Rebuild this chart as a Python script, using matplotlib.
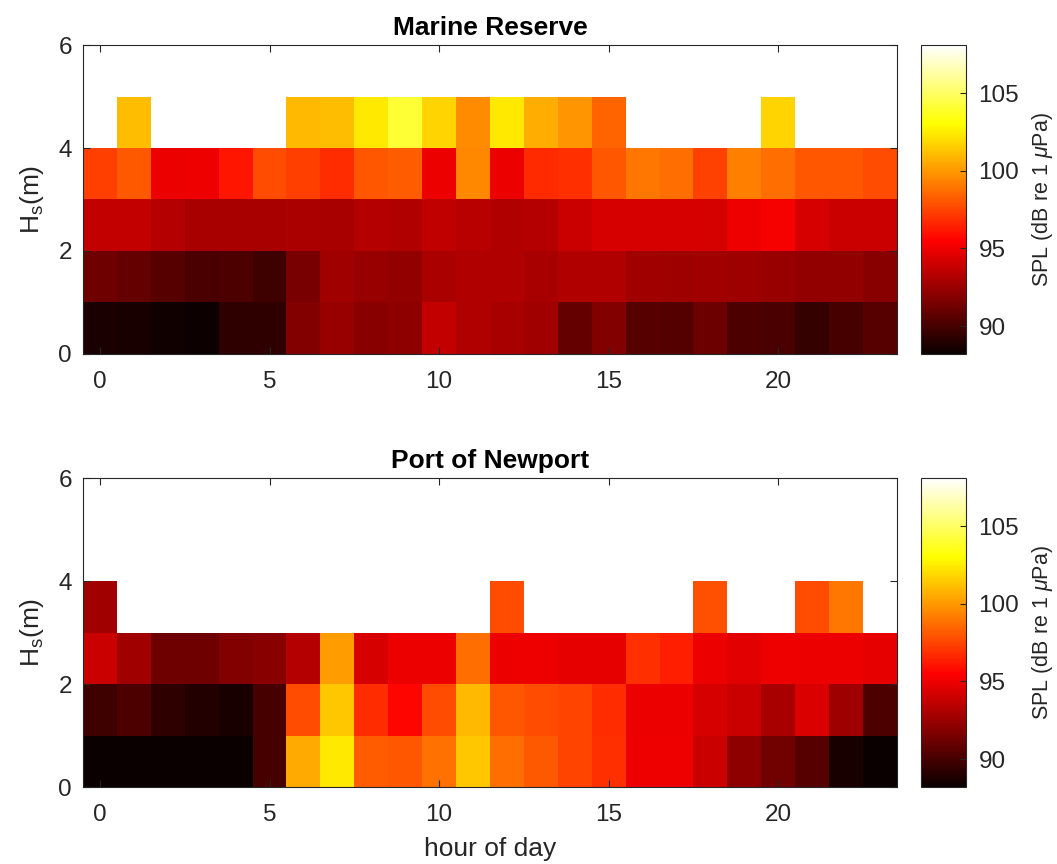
import numpy as np
import matplotlib
matplotlib.use("Agg")
import matplotlib.pyplot as plt

plt.rcParams['font.family'] = ['Liberation Sans', 'DejaVu Sans']
plt.rcParams['mathtext.fontset'] = 'custom'
plt.rcParams['mathtext.rm'] = 'Liberation Sans'
plt.rcParams['mathtext.it'] = 'Liberation Sans:italic'

nan = np.nan

# hour of day (bin centres) and significant wave height bin edges
hours = list(range(24))
hs_edges = [0, 1, 2, 3, 4, 5, 6]

# SPL (dB re 1 uPa) per Hs bin, Marine Reserve
mr_hs0 = [88.7, 88.6, 88.4, 88.3, 89.3, 89.3, 91.8, 92.4, 92.0, 92.1, 93.7, 93.1,
          92.9, 92.7, 90.9, 91.8, 90.5, 90.4, 91.1, 90.2, 90.1, 89.5, 90.0, 90.5]
mr_hs1 = [91.2, 90.9, 90.5, 90.1, 90.2, 89.8, 91.5, 92.7, 92.4, 92.3, 93.0, 93.1,
          93.1, 92.9, 93.1, 93.1, 92.7, 92.6, 92.7, 92.6, 92.4, 92.3, 92.3, 92.0]
mr_hs2 = [93.7, 93.7, 93.3, 92.9, 92.9, 92.9, 93.0, 92.9, 93.3, 93.1, 93.6, 93.4,
          93.1, 93.3, 93.9, 94.3, 94.3, 94.3, 94.2, 95.0, 95.2, 94.3, 93.9, 93.9]
mr_hs3 = [97.3, 98.1, 94.9, 95.0, 96.1, 97.7, 97.3, 96.8, 98.0, 98.2, 94.9, 99.5,
          94.9, 96.7, 96.9, 98.0, 99.0, 98.7, 97.4, 99.3, 98.7, 98.0, 98.0, 97.7]
mr_hs4 = [nan, 101.1, nan, nan, nan, nan, 101.0, 101.1, 102.4, 104.1, 101.8, 99.6,
          102.4, 100.6, 99.9, 98.4, nan, nan, nan, nan, 101.8, nan, nan, nan]
mr_hs5 = [nan] * 24

# SPL per Hs bin, Port of Newport
pn_hs0 = [88.0, 88.0, 88.0, 88.0, 88.0, 90.0, 100.5, 102.4, 98.2, 98.0, 98.8, 101.4,
          98.7, 98.1, 97.5, 96.9, 95.0, 95.0, 93.9, 92.1, 91.3, 90.5, 88.6, 88.0]
pn_hs1 = [89.8, 90.2, 89.3, 88.9, 88.6, 90.0, 97.7, 101.4, 96.8, 95.6, 97.7, 101.0,
          98.0, 97.7, 97.5, 96.8, 94.9, 94.9, 94.3, 93.9, 92.9, 94.4, 92.6, 90.2]
pn_hs2 = [93.9, 92.7, 91.2, 91.2, 91.8, 92.0, 93.3, 100.1, 94.3, 94.9, 94.9, 98.7,
          94.9, 95.0, 94.8, 94.8, 96.9, 96.4, 94.9, 94.6, 95.0, 94.9, 94.9, 94.8]
pn_hs3 = [92.7, nan, nan, nan, nan, nan, nan, nan, nan, nan, nan, nan,
          97.7, nan, nan, nan, nan, nan, 97.8, nan, nan, 97.7, 99.0, nan]
pn_hs4 = [nan] * 24
pn_hs5 = [nan] * 24

titles = ['Marine Reserve', 'Port of Newport']
cbar_ticks = [90, 95, 100, 105]
clim = (88.2, 108.1)

panels = [
    np.array([mr_hs0, mr_hs1, mr_hs2, mr_hs3, mr_hs4, mr_hs5]),
    np.array([pn_hs0, pn_hs1, pn_hs2, pn_hs3, pn_hs4, pn_hs5]),
]

fig = plt.figure(figsize=(10.57, 8.64), dpi=100)
dark = '#262626'

x_edges = np.arange(len(hours) + 1) - 0.5
bottoms = [0.5903, 0.0891]
for i, (spl, title) in enumerate(zip(panels, titles)):
    ax = fig.add_axes([0.0785, bottoms[i], 0.7701, 0.3576])
    mesh = ax.pcolormesh(x_edges, hs_edges, np.ma.masked_invalid(spl),
                         cmap='hot', vmin=clim[0], vmax=clim[1])
    ax.set_xlim(-0.5, 23.5)
    ax.set_ylim(0, 6)
    ax.set_xticks([0, 5, 10, 15, 20])
    ax.set_yticks([0, 2, 4, 6])
    ax.tick_params(direction='in', top=True, right=True, length=5,
                   labelsize=17.5, colors=dark)
    ax.tick_params(axis='x', pad=12)
    ax.tick_params(axis='y', pad=8)
    for s in ax.spines.values():
        s.set_color(dark)
        s.set_linewidth(0.8)
    ax.set_title(title, fontsize=19, fontweight='bold', pad=7)
    ax.set_ylabel(r'$\mathregular{H_s}$(m)', fontsize=19, color=dark, labelpad=9)
    if i == 1:
        ax.set_xlabel('hour of day', fontsize=19, color=dark, labelpad=8)

    # colorbar
    cax = fig.add_axes([0.8713, bottoms[i], 0.0426, 0.3576])
    cb = fig.colorbar(mesh, cax=cax)
    cb.set_ticks(cbar_ticks)
    cb.ax.tick_params(direction='in', length=4, labelsize=17.5, colors=dark, pad=9)
    cb.outline.set_edgecolor(dark)
    cb.outline.set_linewidth(0.8)
    cb.set_label(r'SPL (dB re 1 $\mu$Pa)', fontsize=15.5, color=dark, labelpad=8)

fig.savefig('out.png', dpi=100)
